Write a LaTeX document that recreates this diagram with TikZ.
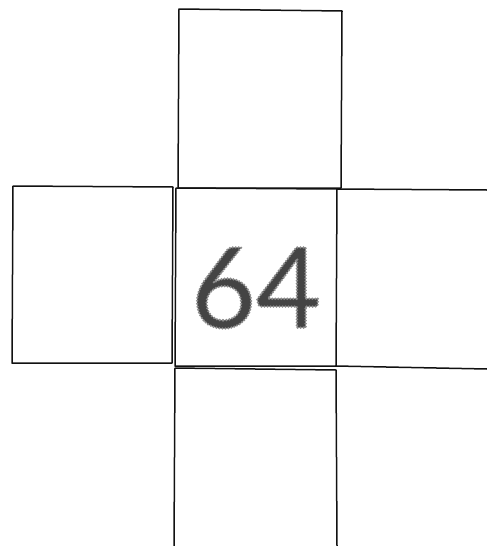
\documentclass[tikz,border=0pt]{standalone}
\usepackage{fontspec}
\setmainfont{Lato}
\begin{document}
\begin{tikzpicture}[x=1pt,y=-1pt,line join=round,line cap=round]
  \definecolor{croceBordo}{HTML}{111111}
  \definecolor{croceCifra}{HTML}{444444}
  \tikzset{casella/.style={draw=croceBordo,line width=1.5pt}}
  \useasboundingbox (0,0) rectangle (487,546);

  % Casella in alto e casella a sinistra.
  \draw[casella] (179,9) -- (342,11) -- (341,188) -- (178,188) -- cycle;
  \draw[casella] (13,186) -- (173,187) -- (172,363) -- (12,363) -- cycle;
  % Casella centrale.
  \draw[casella] (176,188) -- (337,189) -- (336,366) -- (175,366) -- cycle;
  % Caselle tagliate dal bordo: a destra e in basso.
  \draw[casella] (487,190) -- (337,189) (336,366) -- (487,369);
  \draw[casella] (175,368) -- (174,546) (175,368) -- (336,370) -- (337,546);

  % Numero al centro, pieno grigio con contorno puntinato.
  \node[font=\fontsize{112}{112}\selectfont,text=croceCifra,inner sep=0pt]
    (numero) at (256,288)
    {\special{pdf:code q 2 Tr 2.6 w 1 J [0 3] 0 d 0.55 0.55 0.55 RG}64\special{pdf:code Q}};
\end{tikzpicture}
\end{document}
